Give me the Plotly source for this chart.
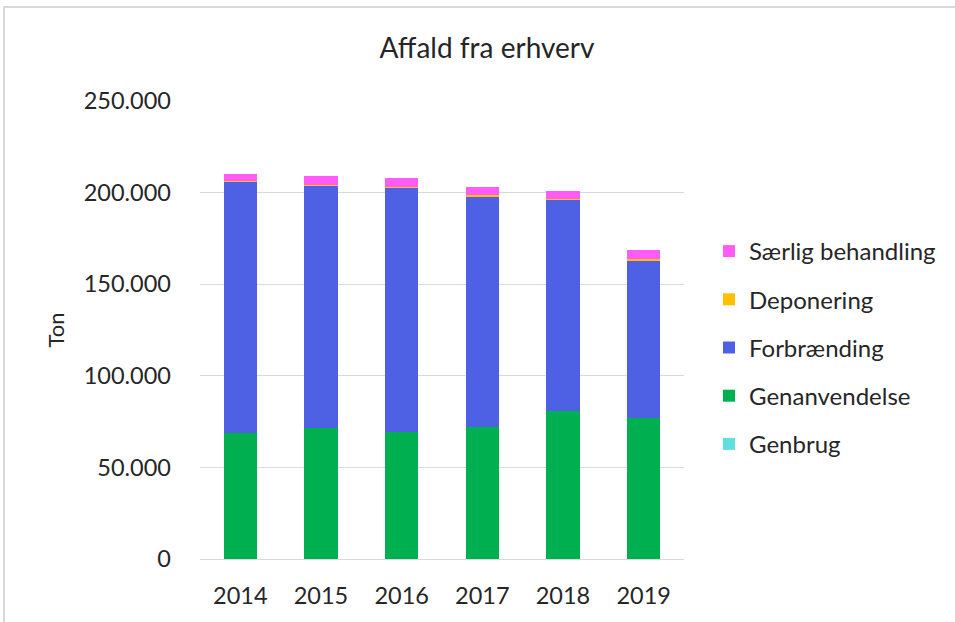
import plotly.graph_objects as go

years = ["2014", "2015", "2016", "2017", "2018", "2019"]
genbrug = [0, 0, 0, 0, 0, 0]
genanvendelse = [68800, 71400, 69500, 72200, 80600, 77100]
forbraending = [137000, 132200, 133400, 125600, 115400, 86100]
deponering = [300, 300, 300, 900, 300, 700]
saerlig = [3900, 5300, 4600, 4200, 4600, 4800]

series = [
    ("Genbrug", genbrug, "#5FE0E0"),
    ("Genanvendelse", genanvendelse, "#00B050"),
    ("Forbrænding", forbraending, "#4E60E4"),
    ("Deponering", deponering, "#FFC000"),
    ("Særlig behandling", saerlig, "#FF5CF7"),
]

FONT = "Lato"
TXT = "#262626"

fig = go.Figure()
n = len(series)
for i, (name, vals, col) in enumerate(series):
    fig.add_trace(go.Bar(x=years, y=vals, name=name, marker_color=col,
                         marker_line_width=0, legendgroup=name,
                         legendrank=n - i))

W, H = 955, 622
L, R, T, B = 200, 684, 101, 559
pw, ph = R - L, B - T

def px_x(p):
    return (p - L) / pw

def px_y(p):
    return (B - p) / ph

fig.update_layout(
    width=W, height=H,
    margin=dict(l=L, r=W - R, t=T, b=H - B, autoexpand=False),
    barmode="stack",
    bargap=0.59,
    plot_bgcolor="white", paper_bgcolor="white",
    font=dict(family=FONT, size=23, color=TXT),
    title=dict(text="Affald fra erhverv", x=(487) / W, xanchor="center",
               y=1 - 48 / H, yanchor="middle",
               font=dict(family=FONT, size=28, color=TXT)),
    legend=dict(x=px_x(709), y=px_y(229), xanchor="left", yanchor="top",
                traceorder="grouped", tracegroupgap=14,
                font=dict(family=FONT, size=24, color=TXT),
                itemwidth=30, bgcolor="rgba(0,0,0,0)"),
    xaxis=dict(showgrid=False, showline=True, linecolor="#D9D9D9", linewidth=1,
               ticks="", tickfont=dict(size=23.5), ticklabelstandoff=16),
    yaxis=dict(range=[0, 250000], tickvals=[0, 50000, 100000, 150000, 200000, 250000],
               ticktext=["0", "50.000", "100.000", "150.000", "200.000", "250.000"],
               showgrid=True, gridcolor="#D9D9D9", gridwidth=1,
               tickfont=dict(size=23.5),
               zeroline=False, showline=False, ticks="", ticklabelstandoff=28,
               title=dict(text="Ton", standoff=12, font=dict(size=22))),
    shapes=[dict(type="rect", xref="paper", yref="paper",
                 x0=px_x(4), x1=px_x(965), y0=px_y(632), y1=px_y(7),
                 line=dict(color="#D9D9D9", width=2), layer="below")],
)

fig.write_html("out.html", config={"displayModeBar": False},
               post_script="document.body.style.margin='0px';")
